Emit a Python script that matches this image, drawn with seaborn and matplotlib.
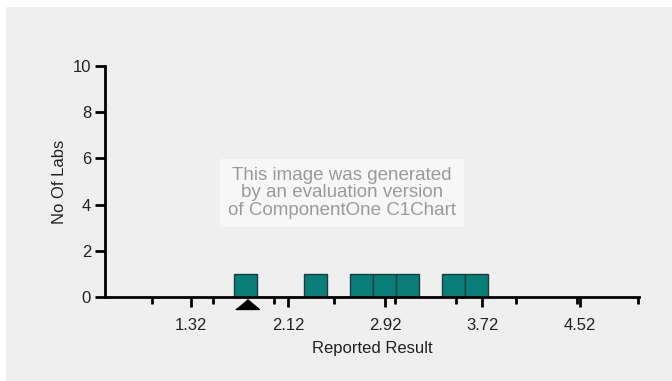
import numpy as np
import pandas as pd
import matplotlib.pyplot as plt
from matplotlib.patches import Rectangle
from matplotlib.ticker import FixedLocator
import seaborn as sns

# reported results of the labs (one box per lab)
results = [1.77, 2.34, 2.72, 2.91, 3.10, 3.48, 3.67]
bin_width = 0.19
bin_start = 1.676
bin_stop = 3.766
your_result = 1.78

major_ticks = [1.32, 2.12, 2.92, 3.72, 4.52]
minor_ticks = [1.0, 1.5, 2.0, 2.5, 3.0, 3.5, 4.0, 4.5, 5.0]
y_ticks = [0, 2, 4, 6, 8, 10]

sns.set_style("white")
plt.rcParams['font.family'] = ['Liberation Sans', 'DejaVu Sans']

fig = plt.figure(figsize=(6.72, 3.81), dpi=100)
fig.patch.set_facecolor("white")
fig.patches.append(Rectangle((6 / 672, 0), 1 - 6 / 672, 1 - 7 / 381,
                             transform=fig.transFigure, facecolor="#efefef",
                             edgecolor="none", zorder=-10))

ax = fig.add_axes([105 / 672, 1 - 297 / 381, (639 - 105) / 672, (297 - 66) / 381])
ax.set_facecolor("none")
ax.set_zorder(2)

df = pd.DataFrame({"Reported Result": results})
sns.histplot(data=df, x="Reported Result", binwidth=bin_width,
             binrange=(bin_start, bin_stop), color="#087e79", alpha=1,
             edgecolor="#1c3d3c", linewidth=1, ax=ax)

# black triangle marking the lab's own result
ax.plot([your_result], [-0.3], marker=[(-1, -0.42), (1, -0.42), (0, 0.42)],
        markersize=17, color="black", clip_on=False, zorder=5)

ax.set_xlim(0.61, 5.01)
ax.set_ylim(0, 10)
ax.set_xticks(major_ticks)
ax.set_xticklabels([f"{t:.2f}" for t in major_ticks])
ax.xaxis.set_minor_locator(FixedLocator(minor_ticks))
ax.set_yticks(y_ticks)

for side in ["top", "right"]:
    ax.spines[side].set_visible(False)
for side in ["left", "bottom"]:
    ax.spines[side].set_linewidth(2)
    ax.spines[side].set_color("black")

ax.tick_params(axis="x", which="major", direction="out", length=7, width=2,
               labelsize=12, pad=8, bottom=True, colors="black")
ax.tick_params(axis="x", which="minor", direction="out", length=5, width=2,
               bottom=True, colors="black")
ax.tick_params(axis="y", direction="out", length=7, width=2, labelsize=12,
               pad=3, left=True, colors="black")
for lab in ax.get_xticklabels() + ax.get_yticklabels():
    lab.set_color("#222222")

ax.set_xlabel("Reported Result", fontsize=12, color="#222222", labelpad=6)
ax.set_ylabel("No Of Labs", fontsize=12, color="#222222", labelpad=4)

fig.text(342 / 672, 1 - 193 / 381,
         "This image was generated\nby an evaluation version\nof ComponentOne C1Chart",
         ha="center", va="center", fontsize=13.5, color="#9a9a9a", linespacing=1.02,
         bbox=dict(facecolor="#f7f7f7", edgecolor="none", pad=6), zorder=10)

fig.savefig("out.png", dpi=100)
